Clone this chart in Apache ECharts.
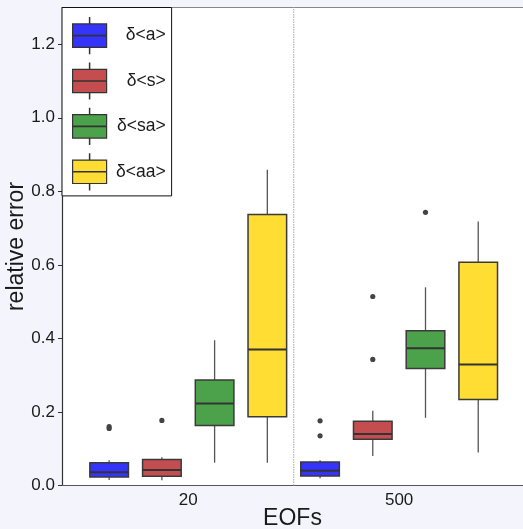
<!DOCTYPE html>
<html>
<head>
<meta charset="utf-8">
<script src="https://cdn.jsdelivr.net/npm/echarts@6/dist/echarts.min.js"></script>
<style>
html,body{margin:0;padding:0;background:#f4f4fc;}
#chart{width:523px;height:529px;}
</style>
</head>
<body>
<div id="chart"></div>
<script>
// ---- data ----
const categories = ['20', '500'];
const seriesNames = ['δ<a>', 'δ<s>', 'δ<sa>', 'δ<aa>'];
const seriesColors = ['#3434fb', '#c44e4f', '#4ba24b', '#ffdd33'];
// [min, Q1, median, Q3, max] per category
const statsA  = [[0.015, 0.023, 0.036, 0.062, 0.069], [0.020, 0.026, 0.040, 0.064, 0.069]];
const statsS  = [[0.014, 0.025, 0.042, 0.071, 0.077], [0.080, 0.126, 0.140, 0.175, 0.203]];
const statsSA = [[0.062, 0.163, 0.223, 0.287, 0.395], [0.184, 0.318, 0.373, 0.421, 0.539]];
const statsAA = [[0.062, 0.187, 0.370, 0.737, 0.859], [0.090, 0.234, 0.329, 0.607, 0.718]];
const outA  = [[0.155, 0.160], [0.135, 0.176]];
const outS  = [[0.177], [0.343, 0.514]];
const outSA = [[], [0.743]];
const outAA = [[], []];
const yTicks = [0.0, 0.2, 0.4, 0.6, 0.8, 1.0, 1.2];
const yMin = 0, yMax = 1.3;

const allStats = [statsA, statsS, statsSA, statsAA];
const allOut = [outA, outS, outSA, outAA];
const nSeries = seriesNames.length;
const dodge = 0.25;     // group dodge width per box (category units)
const boxFrac = 0.183;  // box width (category units)
const xMin = -0.5986, xMax = 1.5873;
const FONT = '"Liberation Sans", Arial, sans-serif';
const boundaries = categories.slice(1).map((_, k) => [k + 0.5, yMin]);

function makeRenderer(s) {
  return function (params, api) {
    const i = api.value(0);
    const unit = api.size([1, 0])[0];
    const xc = api.coord([i + (s - (nSeries - 1) / 2) * dodge, 0])[0];
    const half = unit * boxFrac / 2;
    const py = v => api.coord([i, v])[1];
    const yLo = py(api.value(1)), yQ1 = py(api.value(2)), yMed = py(api.value(3)),
          yQ3 = py(api.value(4)), yHi = py(api.value(5));
    const children = [
      {type: 'line', shape: {x1: xc, y1: yHi, x2: xc, y2: yQ3}, style: {stroke: '#555', lineWidth: 1.3}},
      {type: 'line', shape: {x1: xc, y1: yQ1, x2: xc, y2: yLo}, style: {stroke: '#555', lineWidth: 1.3}},
      {type: 'rect', shape: {x: xc - half, y: yQ3, width: 2 * half, height: yQ1 - yQ3},
        style: {fill: api.visual('color'), stroke: '#3a3a3a', lineWidth: 1.5}},
      {type: 'line', shape: {x1: xc - half, y1: yMed, x2: xc + half, y2: yMed}, style: {stroke: '#333', lineWidth: 2}}
    ];
    (allOut[s][params.dataIndex] || []).forEach(v => {
      children.push({type: 'circle', shape: {cx: xc, cy: py(v), r: 2.6}, style: {fill: '#444'}});
    });
    return {type: 'group', children};
  };
}

const series = seriesNames.map((name, s) => ({
  type: 'custom',
  name: name,
  data: allStats[s].map((st, i) => [i].concat(st)),
  encode: {x: 0, y: [1, 2, 3, 4, 5]},
  itemStyle: {color: seriesColors[s], borderColor: '#333'},
  renderItem: makeRenderer(s),
  z: 3
}));
series.push({
  type: 'custom',
  data: boundaries,
  encode: {x: 0, y: 1},
  silent: true,
  z: 1,
  renderItem: function (params, api) {
    const p0 = api.coord([api.value(0), yMin]);
    const p1 = api.coord([api.value(0), yMax]);
    return {type: 'line', shape: {x1: p0[0], y1: p0[1], x2: p1[0], y2: p1[1]},
      style: {stroke: '#b5b5b5', lineWidth: 1.2, lineDash: [1.5, 1]}};
  }
});

const chart = echarts.init(document.getElementById('chart'), null, {renderer: 'canvas'});
chart.setOption({
  backgroundColor: '#f4f4fc',
  animation: false,
  textStyle: {fontFamily: FONT},
  grid: {left: 62, right: 0, top: 7.5, bottom: 43.5, show: true, backgroundColor: '#ffffff', borderWidth: 0,
    containLabel: false, outerBoundsMode: 'none'},
  xAxis: [{
    type: 'value', min: xMin, max: xMax, position: 'bottom',
    axisLine: {show: true, onZero: false, lineStyle: {color: '#555', width: 1.2}},
    axisTick: {show: false},
    splitLine: {show: false},
    axisLabel: {customValues: categories.map((c, i) => i), formatter: v => categories[Math.round(v)],
      fontSize: 17, color: '#1a1a1a', margin: 6, fontFamily: FONT},
    name: 'EOFs', nameLocation: 'middle', nameGap: 21.5, nameMoveOverlap: false,
    nameTextStyle: {fontSize: 23, color: '#1a1a1a', fontFamily: FONT}
  }, {
    type: 'value', min: xMin, max: xMax, position: 'top',
    axisLine: {show: true, onZero: false, lineStyle: {color: '#888', width: 1.2}},
    axisTick: {show: false}, axisLabel: {show: false}, splitLine: {show: false}
  }],
  yAxis: {
    type: 'value', min: yMin, max: yMax, interval: 0.2,
    axisLine: {show: true, onZero: false, lineStyle: {color: '#333', width: 1.2}},
    axisTick: {show: true, length: 4, customValues: yTicks, lineStyle: {color: '#333'}},
    splitLine: {show: false},
    axisLabel: {customValues: yTicks, formatter: v => v.toFixed(1), fontSize: 17, color: '#1a1a1a', margin: 7, fontFamily: FONT},
    name: 'relative error', nameLocation: 'middle', nameGap: 33.5, nameMoveOverlap: false,
    nameTextStyle: {fontSize: 23, color: '#1a1a1a', fontFamily: FONT}
  },
  legend: {
    data: seriesNames,
    orient: 'vertical',
    left: 62, top: 7.5,
    padding: [9.5, 6, 5.5, 10],
    itemGap: 8.2,
    itemWidth: 34, itemHeight: 36,
    icon: 'path://M0,6.3L34,6.3L34,29.7L0,29.7Z M0,17.8L34,17.8L34,18.2L0,18.2Z M16.85,0L17.15,0L17.15,6.3L16.85,6.3Z M16.85,29.7L17.15,29.7L17.15,36L16.85,36Z',
    backgroundColor: '#ffffff',
    borderColor: '#111', borderWidth: 1, borderRadius: 0,
    itemStyle: {borderColor: '#333', borderWidth: 1.2},
    selectedMode: false,
    formatter: name => '{t|' + name + '}',
    textStyle: {
      fontSize: 17.5, color: '#1a1a1a', fontFamily: FONT,
      rich: {t: {width: 54, align: 'right', fontSize: 17.5, color: '#1a1a1a', fontFamily: FONT}}
    },
    z: 10
  },
  series: series
});
</script>
</body>
</html>
